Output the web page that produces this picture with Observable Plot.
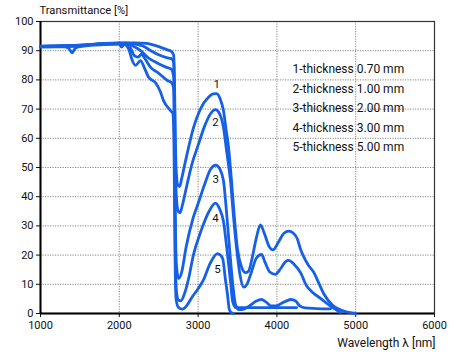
<!DOCTYPE html>
<html>
<head>
<meta charset="utf-8">
<script src="https://cdn.jsdelivr.net/npm/d3@7"></script>
<script src="https://cdn.jsdelivr.net/npm/@observablehq/plot@0.6"></script>
<style>
  html, body { margin: 0; padding: 0; background: #fff; }
  #chart { width: 457px; height: 355px; }
</style>
</head>
<body>
<div id="chart"></div>
<script>
// ---- data ----
const xTicks = [1000, 2000, 3000, 4000, 5000, 6000];
const yTicks = [0, 10, 20, 30, 40, 50, 60, 70, 80, 90, 100];
const curveNames = ["1", "2", "3", "4", "5"];
const legendLabels = [
  "1-thickness 0.70 mm",
  "2-thickness 1.00 mm",
  "3-thickness 2.00 mm",
  "4-thickness 3.00 mm",
  "5-thickness 5.00 mm"
];

const curve1 = [[1000,91.6],[1200,91.7],[1400,91.8],[1600,92.1],[1800,92.5],[2000,92.7],[2200,92.7],[2350,92.5],[2450,91.8],[2550,90.9],[2620,90.2],[2660,89.8],[2690,88.5],[2700,80],[2710,62],[2722,49],[2742,44],[2765,43.5],[2790,46],[2830,51],[2880,57],[2940,63.5],[3005,68.5],[3070,72],[3130,74],[3190,75.2],[3235,75.3],[3280,73.5],[3322,69.5],[3355,63],[3386,57],[3424,45.5],[3460,33],[3500,22],[3550,16],[3600,14],[3640,14.5],[3690,19.5],[3740,26],[3790,30.3],[3840,27.5],[3900,23],[3950,21.8],[4020,24.5],[4090,27.5],[4150,28.2],[4210,27.5],[4260,25.5],[4300,22],[4340,19.5],[4400,16.5],[4470,14],[4530,10.5],[4600,6.5],[4700,3],[4850,0.8],[5000,0]];

const curve2 = [[1000,91.5],[1200,91.6],[1400,91.7],[1600,92],[1800,92.4],[2000,92.6],[2100,92.6],[2200,92.3],[2300,91.6],[2400,90],[2500,88.6],[2600,87.6],[2660,87.3],[2690,86],[2700,75],[2710,55],[2724,40],[2747,35],[2770,34.5],[2800,37],[2850,43],[2920,51],[3005,58],[3080,64],[3160,68.5],[3220,69.8],[3270,68.5],[3322,63.7],[3365,55],[3411,45.5],[3450,33],[3490,22],[3530,13.5],[3580,9],[3620,10],[3680,14.5],[3740,19],[3805,20.2],[3850,17.5],[3910,14.2],[3980,13.4],[4050,15.5],[4110,17.8],[4150,18.2],[4220,16.8],[4300,14],[4376,9.5],[4450,7.3],[4553,5.2],[4680,2.5],[4807,0.3]];

const curve3 = [[1000,91.4],[1200,91.5],[1400,91.6],[1600,92],[1800,92.4],[2000,92.5],[2100,92.4],[2180,91.5],[2270,90],[2370,87.5],[2480,85.8],[2600,84.3],[2660,83.7],[2690,81],[2700,65],[2710,35],[2724,17],[2752,12],[2790,14],[2850,23],[2940,33],[3005,38],[3080,44],[3160,49.5],[3225,50.8],[3275,49.5],[3322,45.5],[3360,35],[3400,22],[3440,10],[3475,3],[3520,1.3],[3580,1.5],[3660,2.8],[3740,4.3],[3805,4.8],[3860,4],[3930,2.6],[3990,2.6],[4080,3.8],[4180,4.8],[4240,4.2],[4290,2.6],[4360,1.9],[4500,1.7],[4680,1.6]];

const curve4 = [[1000,91.3],[1200,91.4],[1400,91.5],[1600,91.9],[1800,92.3],[2000,92.4],[2030,91.2],[2060,92.3],[2100,92.3],[2150,90.5],[2190,88.3],[2240,87.8],[2280,88.8],[2320,87.5],[2400,84.2],[2490,82.5],[2610,79.8],[2665,79],[2690,77],[2700,60],[2710,25],[2724,8],[2752,4.5],[2780,4.3],[2830,7],[2880,12],[2940,20],[3040,28.5],[3140,35],[3220,37.8],[3270,36],[3322,31.5],[3370,21],[3411,11],[3440,4],[3480,2],[3550,2],[3800,2],[4050,2],[4250,2]];

const curve5 = [[1000,91.3],[1300,91.3],[1360,90.8],[1400,89.3],[1440,90.8],[1500,91.4],[1800,92.1],[2000,92.3],[2080,92],[2120,90.5],[2160,87],[2205,85],[2270,86.6],[2320,84],[2370,81],[2460,79],[2520,76],[2560,73],[2650,69.5],[2680,68.5],[2695,55],[2705,25],[2720,5],[2752,2],[2800,1.5],[2850,2.5],[2920,5.5],[3000,8.5],[3068,11.5],[3150,17],[3246,20.5],[3290,19.8],[3315,18.5],[3345,12],[3373,6.5],[3395,1.5],[3420,0.3],[3450,0]];

// ---- build ----
const curves = [curve1, curve2, curve3, curve4, curve5];
const rows = curves.flatMap((c, i) => c.map(([w, t]) => ({w, t, name: curveNames[i]})));
const peaks = curves.map((c, i) => {
  const p = c.filter(([w]) => w > 3000 && w < 3400).reduce((a, b) => (b[1] > a[1] ? b : a));
  return {w: p[0], t: p[1], name: curveNames[i]};
});
const labelOffsets = [-9, 13, 14, 15, 16];
const blue = "#1660e6";
const font = "Roboto, 'Liberation Sans', sans-serif";

const chart = Plot.plot({
  width: 457,
  height: 355,
  marginLeft: 40,
  marginRight: 23,
  marginTop: 21,
  marginBottom: 42,
  style: {fontFamily: font, fontSize: "11px", color: "#111", background: "#fff"},
  x: {domain: [1000, 6000]},
  y: {domain: [0, 100]},
  marks: [
    Plot.gridX(xTicks, {stroke: "#777", strokeOpacity: 0.9, strokeDasharray: "1.2,1.3"}),
    Plot.gridY(yTicks, {stroke: "#777", strokeOpacity: 0.9, strokeDasharray: "1.2,1.3"}),
    Plot.frame({stroke: "#333", strokeWidth: 1.2}),
    Plot.axisX(xTicks, {tickSize: 4, tickPadding: 4, fontSize: 11, label: null, tickFormat: d => String(d)}),
    Plot.axisY(yTicks, {tickSize: 4, tickPadding: 3, fontSize: 11, label: null}),
    Plot.ruleX([1000], {stroke: "#000", strokeWidth: 2}),
    Plot.ruleY([0], {stroke: "#000", strokeWidth: 2}),
    Plot.line(rows, {x: "w", y: "t", z: "name", stroke: blue, strokeWidth: 2.8, curve: "monotone-x"}),
    ...peaks.map((p, i) => Plot.text([p], {x: "w", y: "t", text: "name", dy: labelOffsets[i], fontSize: 11.5, fill: "#111"})),
    ...legendLabels.map((s, i) => Plot.text([s], {frameAnchor: "top-left", textAnchor: "start", lineAnchor: "middle",
      dx: 252, dy: 48 + i * 19.4, fontSize: 12, fill: "#111"})),
    Plot.text(["Transmittance [%]"], {frameAnchor: "top-left", textAnchor: "start", lineAnchor: "middle", dx: -1, dy: -11, fontSize: 11.2, fill: "#111"}),
    Plot.text(["Wavelength λ [nm]"], {frameAnchor: "bottom-right", textAnchor: "end", lineAnchor: "middle", dx: 1, dy: 30, fontSize: 12, fill: "#111"})
  ]
});
document.getElementById("chart").appendChild(chart);
</script>
</body>
</html>
